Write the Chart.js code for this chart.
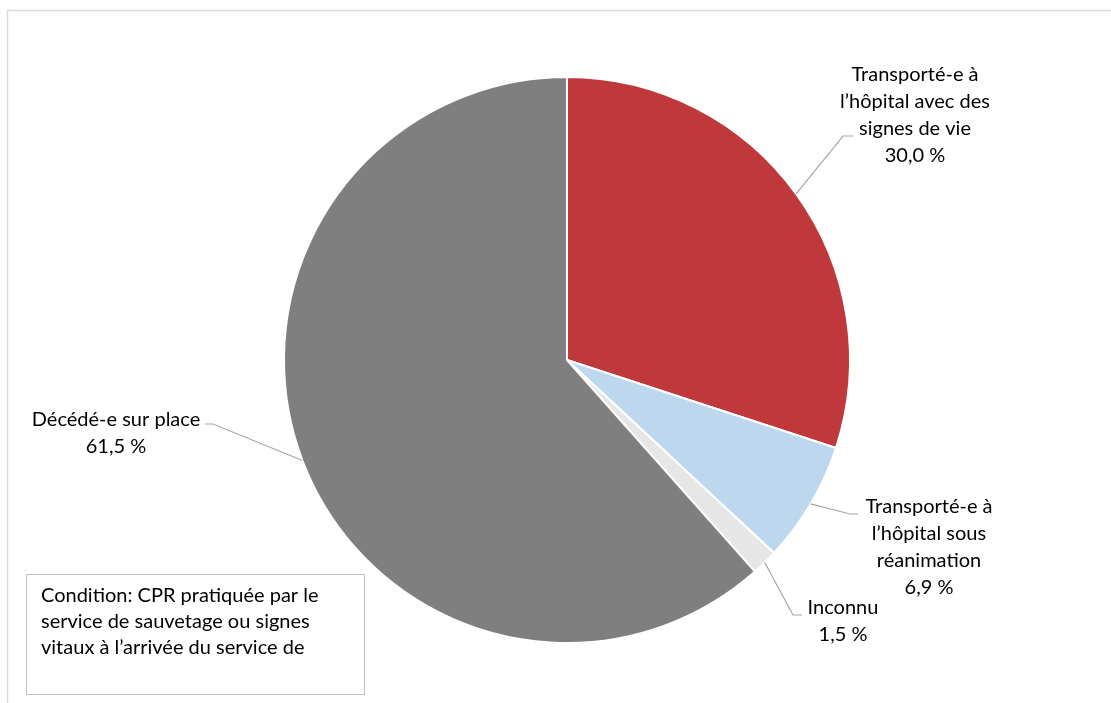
<!DOCTYPE html>
<html>
<head>
<meta charset="utf-8">
<script src="https://cdn.jsdelivr.net/npm/chart.js@4.4.0/dist/chart.umd.min.js"></script>
<style>
  html, body { margin: 0; padding: 0; background: #fff; }
  #wrap { width: 1111px; height: 703px; position: relative; }
</style>
</head>
<body>
<div id="wrap"><canvas id="pieChart" width="1111" height="703"></canvas></div>
<script>
const categories = [
  ['Transporté-e à', 'l\u2019hôpital avec des', 'signes de vie'],
  ['Transporté-e à', 'l\u2019hôpital sous', 'réanimation'],
  ['Inconnu'],
  ['Décédé-e sur place'],
];
const percents = [30.0, 6.9, 1.5, 61.5];
const sliceColors = ['#BE383C', '#BDD7EE', '#E7E6E6', '#7F7F7F'];
const noteLines = [
  'Condition: CPR pratiquée par le',
  'service de sauvetage ou signes',
  'vitaux à l\u2019arrivée du service de',
];

const FONT = '20px Lato, Calibri, sans-serif';
const LINE_H = 26.7;

// where each label block sits (text centre x, first line centre y) and the leader elbow
const labelLayout = [
  { x: 915, y: 75, elbow: [843, 136], end: [853, 136] },
  { x: 929, y: 507, elbow: [850, 514], end: [858, 514] },
  { x: 843, y: 608, elbow: [793, 615], end: [802, 615] },
  { x: 116, y: 420, elbow: [213, 424], end: [205, 424] },
];

const fmt = (v) => v.toFixed(1).replace('.', ',') + ' %';

const decorations = {
  id: 'decorations',
  beforeDraw(chart) {
    const ctx = chart.ctx;
    ctx.save();
    // outer frame
    ctx.strokeStyle = '#D9D9D9';
    ctx.lineWidth = 1.5;
    ctx.beginPath();
    ctx.moveTo(7.5, 703);
    ctx.lineTo(7.5, 10.5);
    ctx.lineTo(1111, 10.5);
    ctx.stroke();
    ctx.restore();
  },
  afterDraw(chart) {
    const ctx = chart.ctx;
    const arcs = chart.getDatasetMeta(0).data;
    ctx.save();
    ctx.font = FONT;
    ctx.fillStyle = '#000';
    ctx.textAlign = 'center';
    ctx.textBaseline = 'middle';
    arcs.forEach((arc, i) => {
      const mid = (arc.startAngle + arc.endAngle) / 2;
      const r = arc.outerRadius;
      const sx = arc.x + Math.cos(mid) * r;
      const sy = arc.y + Math.sin(mid) * r;
      const lay = labelLayout[i];
      ctx.strokeStyle = '#A6A6A6';
      ctx.lineWidth = 1.2;
      ctx.beginPath();
      ctx.moveTo(sx, sy);
      ctx.lineTo(lay.elbow[0], lay.elbow[1]);
      ctx.lineTo(lay.end[0], lay.end[1]);
      ctx.stroke();
      const lines = categories[i].concat([fmt(percents[i])]);
      lines.forEach((t, k) => ctx.fillText(t, lay.x, lay.y + k * LINE_H));
    });

    // note box
    ctx.strokeStyle = '#BFBFBF';
    ctx.lineWidth = 1;
    ctx.strokeRect(26.5, 574.5, 338, 120);
    ctx.textAlign = 'left';
    noteLines.forEach((t, k) => ctx.fillText(t, 41, 596 + k * 26));
    ctx.restore();
  },
};

const ctx = document.getElementById('pieChart');
const pieChart = new Chart(ctx, {
  type: 'pie',
  data: {
    labels: categories.map((c) => c.join(' ')),
    datasets: [{
      data: percents,
      backgroundColor: sliceColors,
      borderColor: '#FFFFFF',
      borderWidth: 2,
    }],
  },
  options: {
    responsive: false,
    animation: false,
    layout: { padding: { top: 76, bottom: 59, left: 283, right: 260 } },
    plugins: {
      legend: { display: false },
      tooltip: { enabled: false },
    },
  },
  plugins: [decorations],
});
</script>
</body>
</html>
